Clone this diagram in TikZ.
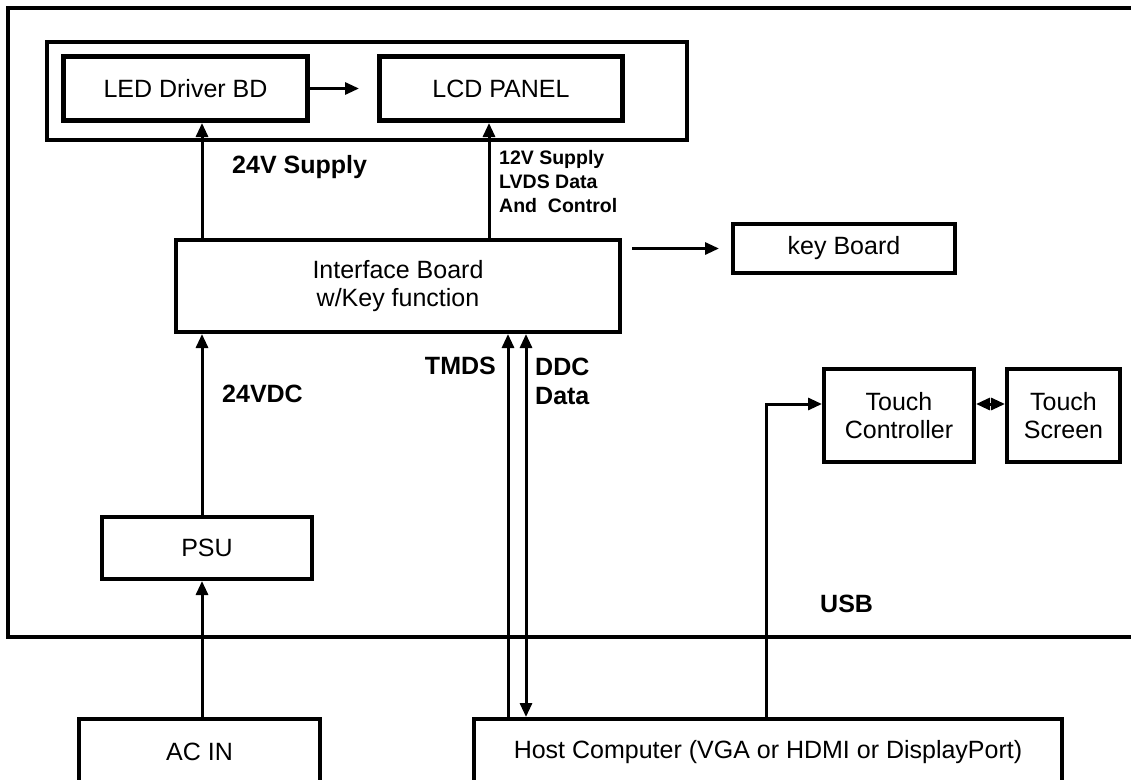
\documentclass[tikz,border=0pt]{standalone}
\usepackage{fontspec}
\usetikzlibrary{arrows.meta}
\newfontfamily\arialfam{Liberation Sans}
\newcommand\boxfnt{\arialfam\fontsize{25}{28.5}\selectfont}
\newcommand\labfnt{\arialfam\bfseries\fontsize{25}{29}\selectfont}
\newcommand\smlabfnt{\arialfam\bfseries\fontsize{19.5}{24}\selectfont}
\tikzset{
  blk/.style={draw, line width=4pt, align=center, font=\boxfnt, inner sep=0pt, anchor=north west},
  thickblk/.style={blk, line width=5pt},
  conn/.style={line width=3pt, -{Triangle[length=14pt,width=12pt]}},
  bconn/.style={line width=3pt, {Triangle[length=14pt,width=12pt]}-{Triangle[length=14pt,width=12pt]}},
  frame/.style={line width=4pt, line join=miter},
  lab/.style={font=\labfnt, anchor=west, inner sep=0pt},
  smlab/.style={font=\smlabfnt, anchor=west, inner sep=0pt, align=left},
}
\begin{document}
\begin{tikzpicture}[x=1pt,y=-1pt]
\useasboundingbox[fill=white] (0,0) rectangle (1131,779);
% outer housing frame
\draw[frame] (1140,8) -- (8,8) -- (8,637) -- (1140,637);
% blocks
\node[blk, minimum width=640pt, minimum height=98pt] (module) at (45,40) {};
\node[thickblk, minimum width=244pt, minimum height=64pt] (led) at (61,54) {LED Driver BD};
\node[thickblk, minimum width=243pt, minimum height=64pt] (lcd) at (377,54) {LCD PANEL};
\node[blk, minimum width=444pt, minimum height=92pt] (iface) at (174,238) {Interface Board\\w/Key function};
\node[blk, minimum width=222pt, minimum height=49pt] (key) at (731,222) {key Board};
\node[blk, minimum width=210pt, minimum height=62pt] (psu) at (100,515) {PSU};
\node[blk, minimum width=241pt, minimum height=66pt] (ac) at (77,717) {AC IN};
\node[blk, minimum width=588pt, minimum height=66pt] (host) at (472,717) {Host Computer (VGA or HDMI or DisplayPort)};
\node[blk, minimum width=150pt, minimum height=93pt] (tc) at (822,367) {Touch\\Controller};
\node[blk, minimum width=113pt, minimum height=93pt] (ts) at (1005,367) {Touch\\Screen};
% column / row helpers
\coordinate (cA) at (202,0);
\coordinate (cB) at (489,0);
\coordinate (cT) at (508,0);
\coordinate (cD) at (526,0);
\coordinate (cU) at (766,0);
\coordinate (rU) at (0,404);
% connectors
\draw[conn, shorten >=18pt] (led) -- (lcd);
\draw[conn, shorten <=10pt, shorten >=12pt] (iface.east |- key) -- (key);
\draw[conn] (iface.north -| cA) -- (led.south -| cA);
\draw[conn] (iface.north -| cB) -- (lcd.south -| cB);
\draw[conn] (psu.north -| cA) -- (iface.south -| cA);
\draw[conn] (ac.north -| cA) -- (psu.south -| cA);
\draw[conn] (host.north -| cT) -- (iface.south -| cT);
\draw[bconn] (host.north -| cD) -- (iface.south -| cD);
\draw[conn] (host.north -| cU) |- (tc.west |- rU);
\draw[bconn] (tc.east |- rU) -- (ts.west |- rU);
% labels
\node[lab] (l24s) at (232,167) {24V Supply};
\node[smlab] (l12) at (499,182) {12V Supply\\LVDS Data\\And\ \ Control};
\node[lab] (l24d) at (222,394) {24VDC};
\node[lab, anchor=east] (ltmds) at (496,366) {TMDS};
\node[lab, align=left] (lddc) at (535,381) {DDC\\Data};
\node[lab] (lusb) at (820,604) {USB};
\end{tikzpicture}
\end{document}
